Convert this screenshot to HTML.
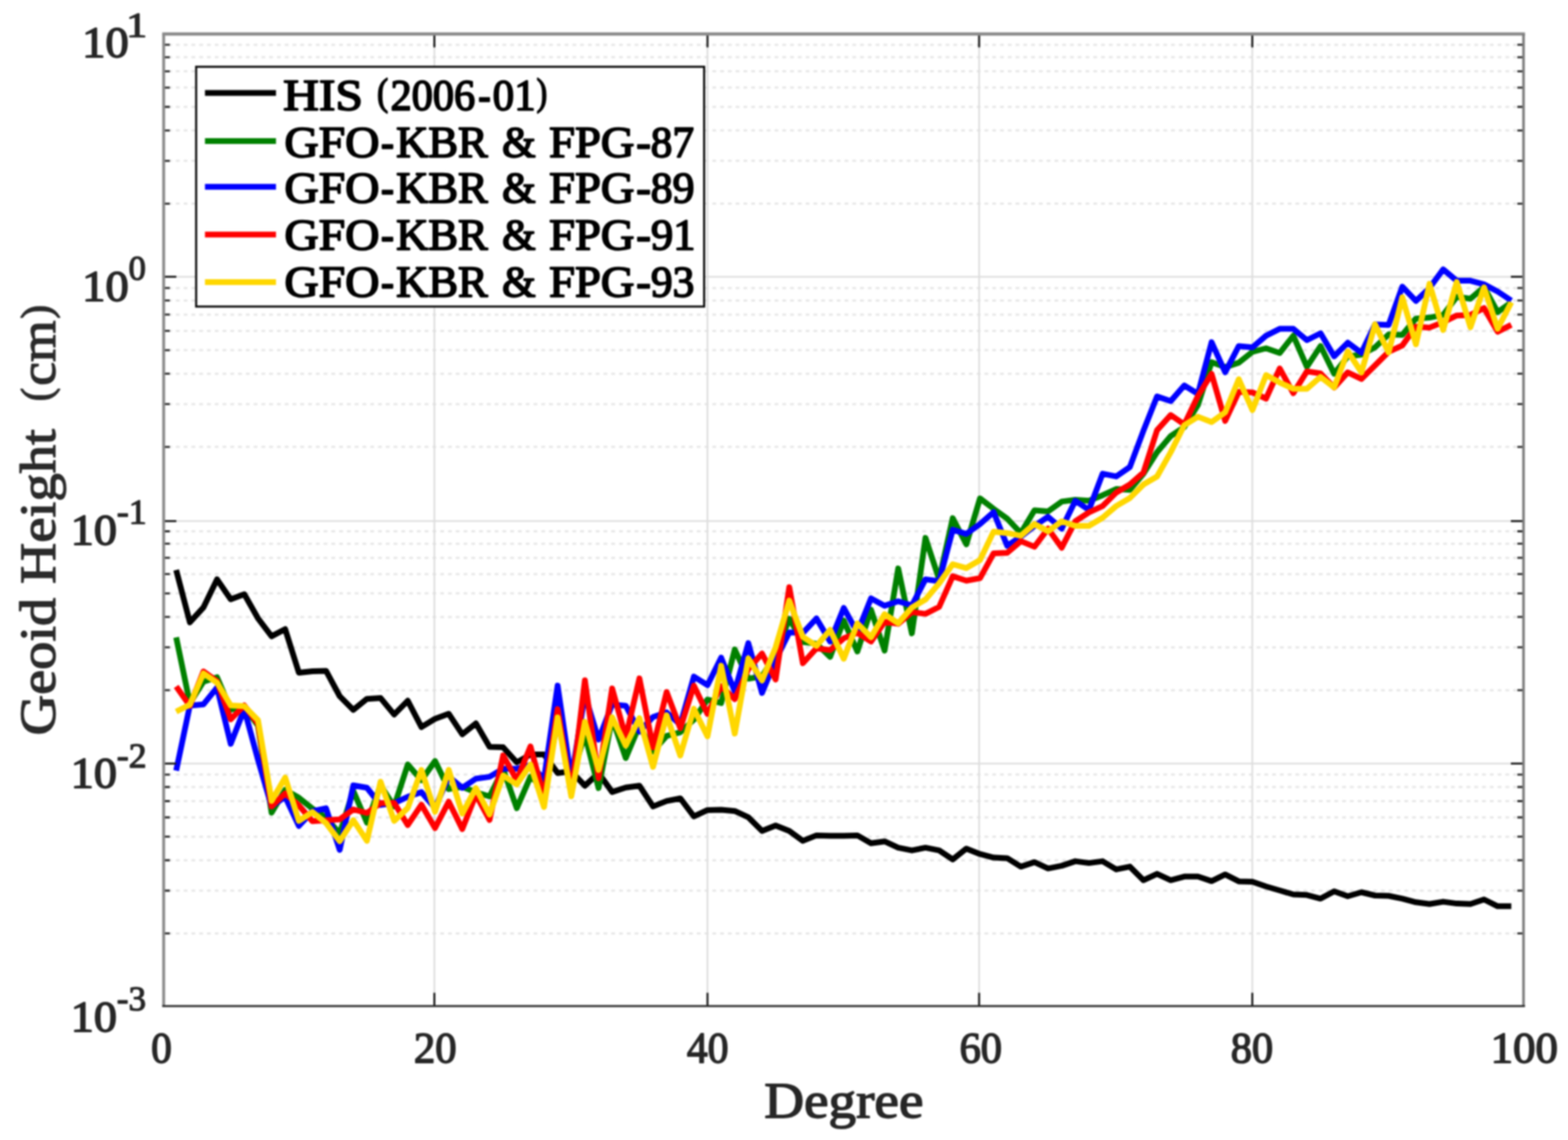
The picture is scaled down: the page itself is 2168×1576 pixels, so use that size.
<!DOCTYPE html>
<html lang="en"><head><meta charset="utf-8"><title>Geoid Height vs Degree</title>
<style>html,body{margin:0;padding:0;background:#fff;}svg{display:block}text{font-family:"Liberation Serif","DejaVu Serif",serif;font-weight:normal;stroke-linejoin:round;}.tk{font-size:60.8px;fill:#262626;stroke:#262626;stroke-width:2.0px;}.sp{font-size:47.5px;fill:#262626;stroke:#262626;stroke-width:1.6px;}.lg{font-size:60.8px;fill:#000;stroke:#000;stroke-width:2.3px;}.ax{font-size:69.0px;fill:#262626;stroke:#262626;stroke-width:1.9px;}.ay{font-size:69.0px;fill:#2a2a2a;stroke:#2a2a2a;stroke-width:1.7px;}</style></head><body>
<svg width="2168" height="1576" viewBox="0 0 2168 1576" role="img" aria-label="Geoid height versus degree">
<defs><filter id="soft" x="0" y="0" width="2168" height="1576" filterUnits="userSpaceOnUse" color-interpolation-filters="sRGB"><feGaussianBlur stdDeviation="0.9"/></filter></defs>
<g filter="url(#soft)">
<rect x="0" y="0" width="2168" height="1576" fill="#fff"/>
<g stroke="#e7e7e7" stroke-width="3.0" stroke-dasharray="5.2 5.55" stroke-dashoffset="4.6" fill="none">
<path d="M226.3 1290.46H2106.5"/>
<path d="M226.3 1231.24H2106.5"/>
<path d="M226.3 1189.23H2106.5"/>
<path d="M226.3 1156.64H2106.5"/>
<path d="M226.3 1130.01H2106.5"/>
<path d="M226.3 1107.49H2106.5"/>
<path d="M226.3 1087.99H2106.5"/>
<path d="M226.3 1070.79H2106.5"/>
<path d="M226.3 954.16H2106.5"/>
<path d="M226.3 894.94H2106.5"/>
<path d="M226.3 852.93H2106.5"/>
<path d="M226.3 820.34H2106.5"/>
<path d="M226.3 793.71H2106.5"/>
<path d="M226.3 771.19H2106.5"/>
<path d="M226.3 751.69H2106.5"/>
<path d="M226.3 734.49H2106.5"/>
<path d="M226.3 617.86H2106.5"/>
<path d="M226.3 558.64H2106.5"/>
<path d="M226.3 516.63H2106.5"/>
<path d="M226.3 484.04H2106.5"/>
<path d="M226.3 457.41H2106.5"/>
<path d="M226.3 434.89H2106.5"/>
<path d="M226.3 415.39H2106.5"/>
<path d="M226.3 398.19H2106.5"/>
<path d="M226.3 281.56H2106.5"/>
<path d="M226.3 222.34H2106.5"/>
<path d="M226.3 180.33H2106.5"/>
<path d="M226.3 147.74H2106.5"/>
<path d="M226.3 121.11H2106.5"/>
<path d="M226.3 98.59H2106.5"/>
<path d="M226.3 79.09H2106.5"/>
<path d="M226.3 61.89H2106.5"/>
</g>
<g stroke="#dddddd" stroke-width="2.3" fill="none">
<path d="M600.60 47.0V1390.9"/>
<path d="M978.20 47.0V1390.9"/>
<path d="M1353.80 47.0V1390.9"/>
<path d="M1731.50 47.0V1390.9"/>
<path d="M226.3 382.70H2106.5"/>
<path d="M226.3 720.40H2106.5"/>
<path d="M226.3 1055.60H2106.5"/>
</g>
<g fill="none" stroke-width="8.0" stroke-linejoin="round" stroke-linecap="butt">
<path stroke="#000000" d="M243.6 787.9 L262.5 860.3 L281.3 839.8 L300.1 800.9 L319.0 828.5 L337.8 821.5 L356.7 854.8 L375.5 879.6 L394.3 869.8 L413.2 929.9 L432.0 927.9 L450.8 927.4 L469.7 962.5 L488.5 981.3 L507.3 966.2 L526.2 965.0 L545.0 987.8 L563.8 968.8 L582.7 1005.1 L601.5 993.8 L620.4 986.8 L639.2 1015.1 L658.0 1000.1 L676.9 1032.6 L695.7 1033.1 L714.5 1053.9 L733.4 1043.1 L752.2 1043.1 L771.0 1068.7 L789.9 1066.2 L808.7 1086.2 L827.6 1068.7 L846.4 1094.9 L865.2 1088.7 L884.1 1086.2 L902.9 1114.9 L921.7 1107.4 L940.6 1103.7 L959.4 1128.7 L978.2 1119.9 L997.1 1119.4 L1015.9 1121.2 L1034.7 1129.9 L1053.6 1148.7 L1072.4 1141.2 L1091.3 1148.7 L1110.1 1162.4 L1128.9 1154.9 L1147.8 1155.4 L1166.6 1155.4 L1185.4 1154.9 L1204.3 1165.7 L1223.1 1163.2 L1241.9 1171.9 L1260.8 1175.7 L1279.6 1171.9 L1298.5 1175.7 L1317.3 1188.1 L1336.1 1173.2 L1355.0 1180.7 L1373.8 1185.6 L1392.6 1186.4 L1411.5 1198.1 L1430.3 1191.9 L1449.1 1200.6 L1468.0 1196.9 L1486.8 1190.6 L1505.6 1193.1 L1524.5 1190.6 L1543.3 1201.9 L1562.2 1198.1 L1581.0 1216.8 L1599.8 1208.1 L1618.7 1216.8 L1637.5 1211.8 L1656.3 1211.8 L1675.2 1218.1 L1694.0 1208.9 L1712.8 1218.4 L1731.7 1218.9 L1750.5 1225.5 L1769.4 1231.0 L1788.2 1236.5 L1807.0 1237.3 L1825.9 1242.3 L1844.7 1232.3 L1863.5 1239.0 L1882.4 1233.5 L1901.2 1238.0 L1920.0 1238.5 L1938.9 1242.3 L1957.7 1247.3 L1976.5 1249.8 L1995.4 1246.6 L2014.2 1249.1 L2033.1 1249.8 L2051.9 1243.5 L2070.7 1252.8 L2089.6 1252.8"/>
<path stroke="#008000" d="M243.6 881.1 L262.5 972.0 L281.3 942.4 L300.1 936.2 L319.0 981.1 L337.8 977.2 L356.7 1003.1 L375.5 1123.5 L394.3 1092.0 L413.2 1102.8 L432.0 1117.8 L450.8 1130.3 L469.7 1152.3 L488.5 1093.2 L507.3 1137.3 L526.2 1085.7 L545.0 1114.8 L563.8 1056.9 L582.7 1078.6 L601.5 1052.1 L620.4 1090.9 L639.2 1087.7 L658.0 1095.2 L676.9 1101.0 L695.7 1063.2 L714.5 1117.3 L733.4 1073.8 L752.2 1089.4 L771.0 997.9 L789.9 1076.9 L808.7 1015.4 L827.6 1089.4 L846.4 992.9 L865.2 1047.9 L884.1 1002.9 L902.9 1038.8 L921.7 1017.4 L940.6 1012.4 L959.4 994.9 L978.2 967.1 L997.1 971.9 L1015.9 897.9 L1034.7 938.2 L1053.6 935.1 L1072.4 904.9 L1091.3 855.4 L1110.1 887.6 L1128.9 889.9 L1147.8 908.1 L1166.6 857.9 L1185.4 900.7 L1204.3 842.9 L1223.1 899.4 L1241.9 785.9 L1260.8 875.7 L1279.6 743.6 L1298.5 801.0 L1317.3 716.3 L1336.1 752.5 L1355.0 689.0 L1373.8 703.4 L1392.6 717.0 L1411.5 736.9 L1430.3 705.5 L1449.1 707.1 L1468.0 693.4 L1486.8 691.0 L1505.6 692.2 L1524.5 684.7 L1543.3 676.1 L1562.2 677.3 L1581.0 654.9 L1599.8 625.2 L1618.7 602.8 L1637.5 590.4 L1656.3 560.0 L1675.2 500.7 L1694.0 507.6 L1712.8 501.4 L1731.7 486.4 L1750.5 481.5 L1769.4 488.0 L1788.2 464.1 L1807.0 507.1 L1825.9 478.4 L1844.7 516.7 L1863.5 492.7 L1882.4 490.2 L1901.2 480.2 L1920.0 462.3 L1938.9 462.9 L1957.7 440.4 L1976.5 439.1 L1995.4 435.4 L2014.2 410.3 L2033.1 413.0 L2051.9 396.9 L2070.7 431.5 L2089.6 418.0"/>
<path stroke="#0000ff" d="M243.6 1065.4 L262.5 975.5 L281.3 973.7 L300.1 950.5 L319.0 1028.3 L337.8 980.5 L356.7 1050.2 L375.5 1114.8 L394.3 1101.6 L413.2 1141.9 L432.0 1121.5 L450.8 1117.4 L469.7 1174.9 L488.5 1085.7 L507.3 1089.0 L526.2 1112.9 L545.0 1110.3 L563.8 1101.5 L582.7 1095.1 L601.5 1117.1 L620.4 1073.7 L639.2 1089.1 L658.0 1076.5 L676.9 1073.9 L695.7 1062.7 L714.5 1062.7 L733.4 1057.7 L752.2 1076.9 L771.0 947.9 L789.9 1076.9 L808.7 960.4 L827.6 1022.4 L846.4 973.9 L865.2 975.7 L884.1 1011.4 L902.9 991.2 L921.7 984.9 L940.6 1001.9 L959.4 935.4 L978.2 947.2 L997.1 909.2 L1015.9 955.7 L1034.7 889.2 L1053.6 957.9 L1072.4 912.4 L1091.3 874.2 L1110.1 874.9 L1128.9 855.0 L1147.8 886.9 L1166.6 840.4 L1185.4 874.4 L1204.3 827.2 L1223.1 837.4 L1241.9 831.2 L1260.8 837.0 L1279.6 800.9 L1298.5 803.5 L1317.3 732.4 L1336.1 738.1 L1355.0 724.5 L1373.8 707.9 L1392.6 754.6 L1411.5 741.9 L1430.3 727.0 L1449.1 714.4 L1468.0 730.8 L1486.8 692.3 L1505.6 705.0 L1524.5 654.9 L1543.3 658.7 L1562.2 645.6 L1581.0 595.3 L1599.8 548.1 L1618.7 554.5 L1637.5 532.9 L1656.3 544.5 L1675.2 473.2 L1694.0 514.6 L1712.8 478.4 L1731.7 480.2 L1750.5 464.1 L1769.4 454.6 L1788.2 454.6 L1807.0 470.3 L1825.9 460.8 L1844.7 492.6 L1863.5 473.7 L1882.4 487.7 L1901.2 448.5 L1920.0 449.2 L1938.9 396.3 L1957.7 416.1 L1976.5 398.1 L1995.4 372.4 L2014.2 388.1 L2033.1 388.1 L2051.9 393.1 L2070.7 403.0 L2089.6 415.5"/>
<path stroke="#ff0000" d="M243.6 949.0 L262.5 975.7 L281.3 928.3 L300.1 941.8 L319.0 994.5 L337.8 975.3 L356.7 1000.6 L375.5 1114.8 L394.3 1096.9 L413.2 1113.3 L432.0 1135.3 L450.8 1134.1 L469.7 1132.8 L488.5 1119.0 L507.3 1124.0 L526.2 1110.3 L545.0 1110.0 L563.8 1140.6 L582.7 1112.5 L601.5 1144.7 L620.4 1108.3 L639.2 1146.1 L658.0 1098.5 L676.9 1133.5 L695.7 1044.4 L714.5 1078.5 L733.4 1031.9 L752.2 1101.9 L771.0 980.4 L789.9 1096.9 L808.7 940.4 L827.6 1075.7 L846.4 951.7 L865.2 1019.4 L884.1 937.9 L902.9 1033.2 L921.7 956.7 L940.6 1006.7 L959.4 947.9 L978.2 986.9 L997.1 948.6 L1015.9 966.5 L1034.7 924.9 L1053.6 903.5 L1072.4 939.4 L1091.3 811.7 L1110.1 916.9 L1128.9 896.2 L1147.8 898.7 L1166.6 882.4 L1185.4 874.9 L1204.3 886.9 L1223.1 859.7 L1241.9 862.4 L1260.8 846.2 L1279.6 848.6 L1298.5 839.0 L1317.3 796.6 L1336.1 802.7 L1355.0 799.3 L1373.8 765.0 L1392.6 764.2 L1411.5 748.1 L1430.3 755.9 L1449.1 730.8 L1468.0 757.2 L1486.8 720.7 L1505.6 708.3 L1524.5 699.6 L1543.3 681.0 L1562.2 669.8 L1581.0 653.3 L1599.8 594.7 L1618.7 573.8 L1637.5 586.7 L1656.3 547.5 L1675.2 516.8 L1694.0 581.8 L1712.8 541.8 L1731.7 542.5 L1750.5 551.0 L1769.4 509.3 L1788.2 543.6 L1807.0 513.4 L1825.9 516.3 L1844.7 535.7 L1863.5 514.8 L1882.4 523.9 L1901.2 505.1 L1920.0 486.4 L1938.9 477.7 L1957.7 451.4 L1976.5 452.9 L1995.4 445.4 L2014.2 436.2 L2033.1 435.4 L2051.9 425.9 L2070.7 458.6 L2089.6 449.1"/>
<path stroke="#ffd700" d="M243.6 983.8 L262.5 974.1 L281.3 931.0 L300.1 943.7 L319.0 975.3 L337.8 976.3 L356.7 995.6 L375.5 1107.2 L394.3 1074.9 L413.2 1134.8 L432.0 1122.7 L450.8 1137.8 L469.7 1162.9 L488.5 1133.9 L507.3 1162.4 L526.2 1080.7 L545.0 1134.8 L563.8 1117.0 L582.7 1064.4 L601.5 1122.3 L620.4 1064.4 L639.2 1124.8 L658.0 1089.5 L676.9 1126.0 L695.7 1072.1 L714.5 1084.5 L733.4 1056.9 L752.2 1115.7 L771.0 991.7 L789.9 1100.7 L808.7 997.9 L827.6 1064.4 L846.4 991.7 L865.2 1030.7 L884.1 992.9 L902.9 1060.2 L921.7 988.9 L940.6 1044.4 L959.4 979.9 L978.2 1017.9 L997.1 920.4 L1015.9 1014.2 L1034.7 910.4 L1053.6 940.7 L1072.4 894.9 L1091.3 830.4 L1110.1 880.5 L1128.9 892.9 L1147.8 870.8 L1166.6 910.7 L1185.4 861.8 L1204.3 881.0 L1223.1 849.1 L1241.9 861.6 L1260.8 839.9 L1279.6 828.8 L1298.5 806.4 L1317.3 780.0 L1336.1 785.3 L1355.0 774.3 L1373.8 734.9 L1392.6 736.9 L1411.5 740.6 L1430.3 724.4 L1449.1 734.4 L1468.0 720.7 L1486.8 727.0 L1505.6 727.0 L1524.5 715.8 L1543.3 699.6 L1562.2 688.5 L1581.0 669.8 L1599.8 658.7 L1618.7 625.1 L1637.5 587.8 L1656.3 576.1 L1675.2 583.5 L1694.0 570.1 L1712.8 524.3 L1731.7 566.9 L1750.5 518.6 L1769.4 528.8 L1788.2 537.5 L1807.0 537.5 L1825.9 521.1 L1844.7 535.5 L1863.5 485.7 L1882.4 514.8 L1901.2 448.4 L1920.0 487.2 L1938.9 411.0 L1957.7 476.0 L1976.5 392.3 L1995.4 456.1 L2014.2 389.8 L2033.1 452.4 L2051.9 397.3 L2070.7 454.4 L2089.6 418.0"/>
</g>
<g stroke="#1c1c1c" stroke-width="2.8" fill="none">
<path d="M600.60 1390.9v-18.5M600.60 47.0v18.5"/>
<path d="M978.20 1390.9v-18.5M978.20 47.0v18.5"/>
<path d="M1353.80 1390.9v-18.5M1353.80 47.0v18.5"/>
<path d="M1731.50 1390.9v-18.5M1731.50 47.0v18.5"/>
<path d="M226.3 382.70h17.5M2106.5 382.70h-17.5"/>
<path d="M226.3 720.40h17.5M2106.5 720.40h-17.5"/>
<path d="M226.3 1055.60h17.5M2106.5 1055.60h-17.5"/>
</g>
<g stroke="#2c2c2c" stroke-width="2.8" fill="none">
<path d="M226.3 1290.46h8.5M2106.5 1290.46h-8.5"/>
<path d="M226.3 1231.24h8.5M2106.5 1231.24h-8.5"/>
<path d="M226.3 1189.23h8.5M2106.5 1189.23h-8.5"/>
<path d="M226.3 1156.64h8.5M2106.5 1156.64h-8.5"/>
<path d="M226.3 1130.01h8.5M2106.5 1130.01h-8.5"/>
<path d="M226.3 1107.49h8.5M2106.5 1107.49h-8.5"/>
<path d="M226.3 1087.99h8.5M2106.5 1087.99h-8.5"/>
<path d="M226.3 1070.79h8.5M2106.5 1070.79h-8.5"/>
<path d="M226.3 954.16h8.5M2106.5 954.16h-8.5"/>
<path d="M226.3 894.94h8.5M2106.5 894.94h-8.5"/>
<path d="M226.3 852.93h8.5M2106.5 852.93h-8.5"/>
<path d="M226.3 820.34h8.5M2106.5 820.34h-8.5"/>
<path d="M226.3 793.71h8.5M2106.5 793.71h-8.5"/>
<path d="M226.3 771.19h8.5M2106.5 771.19h-8.5"/>
<path d="M226.3 751.69h8.5M2106.5 751.69h-8.5"/>
<path d="M226.3 734.49h8.5M2106.5 734.49h-8.5"/>
<path d="M226.3 617.86h8.5M2106.5 617.86h-8.5"/>
<path d="M226.3 558.64h8.5M2106.5 558.64h-8.5"/>
<path d="M226.3 516.63h8.5M2106.5 516.63h-8.5"/>
<path d="M226.3 484.04h8.5M2106.5 484.04h-8.5"/>
<path d="M226.3 457.41h8.5M2106.5 457.41h-8.5"/>
<path d="M226.3 434.89h8.5M2106.5 434.89h-8.5"/>
<path d="M226.3 415.39h8.5M2106.5 415.39h-8.5"/>
<path d="M226.3 398.19h8.5M2106.5 398.19h-8.5"/>
<path d="M226.3 281.56h8.5M2106.5 281.56h-8.5"/>
<path d="M226.3 222.34h8.5M2106.5 222.34h-8.5"/>
<path d="M226.3 180.33h8.5M2106.5 180.33h-8.5"/>
<path d="M226.3 147.74h8.5M2106.5 147.74h-8.5"/>
<path d="M226.3 121.11h8.5M2106.5 121.11h-8.5"/>
<path d="M226.3 98.59h8.5M2106.5 98.59h-8.5"/>
<path d="M226.3 79.09h8.5M2106.5 79.09h-8.5"/>
<path d="M226.3 61.89h8.5M2106.5 61.89h-8.5"/>
</g>
<path d="M224.3 47.0H2108.5" stroke="#8a8a8a" stroke-width="4.4" fill="none"/>
<path d="M226.3 47.0V1390.9" stroke="#8a8a8a" stroke-width="4" fill="none"/>
<path d="M2106.5 47.0V1390.9" stroke="#7c7c7c" stroke-width="3.6" fill="none"/>
<path d="M224.3 1390.9H2108.5" stroke="#2a2a2a" stroke-width="2.8" fill="none"/>
<rect x="271.2" y="92.3" width="702.4000000000001" height="331.5" fill="#fff" stroke="#0a0a0a" stroke-width="2.9"/>
<path d="M283.4 128.4H381.6" stroke="#000000" stroke-width="8.0" fill="none"/>
<text class="lg"><tspan x="391.48" y="152.4" textLength="110.25" lengthAdjust="spacingAndGlyphs">HIS</tspan> <tspan x="521.38" y="144.8" textLength="15.15" lengthAdjust="spacingAndGlyphs" style="font-size:52px">(</tspan><tspan x="540.00" y="152.4" textLength="117.02" lengthAdjust="spacingAndGlyphs">2006</tspan><tspan x="661.24" y="152.4" textLength="17.23" lengthAdjust="spacingAndGlyphs">-</tspan><tspan x="681.36" y="152.4" textLength="59.19" lengthAdjust="spacingAndGlyphs">01</tspan><tspan x="741.88" y="144.8" textLength="14.52" lengthAdjust="spacingAndGlyphs" style="font-size:52px">)</tspan></text>
<path d="M283.4 195.0H381.6" stroke="#008000" stroke-width="8.0" fill="none"/>
<text class="lg"><tspan x="393.25" y="216.5" textLength="131.33" lengthAdjust="spacingAndGlyphs">GFO</tspan><tspan x="526.65" y="216.5" textLength="18.00" lengthAdjust="spacingAndGlyphs">-</tspan><tspan x="547.68" y="216.5" textLength="126.59" lengthAdjust="spacingAndGlyphs">KBR</tspan> <tspan x="694.34" y="216.5" textLength="46.44" lengthAdjust="spacingAndGlyphs">&amp;</tspan> <tspan x="759.20" y="216.5" textLength="117.93" lengthAdjust="spacingAndGlyphs">FPG</tspan><tspan x="879.81" y="216.5" textLength="20.19" lengthAdjust="spacingAndGlyphs">-</tspan><tspan x="899.84" y="216.5" textLength="59.78" lengthAdjust="spacingAndGlyphs">87</tspan></text>
<path d="M283.4 258.3H381.6" stroke="#0000ff" stroke-width="8.0" fill="none"/>
<text class="lg"><tspan x="393.25" y="279.9" textLength="131.33" lengthAdjust="spacingAndGlyphs">GFO</tspan><tspan x="526.65" y="279.9" textLength="18.00" lengthAdjust="spacingAndGlyphs">-</tspan><tspan x="547.68" y="279.9" textLength="126.59" lengthAdjust="spacingAndGlyphs">KBR</tspan> <tspan x="694.34" y="279.9" textLength="46.44" lengthAdjust="spacingAndGlyphs">&amp;</tspan> <tspan x="759.20" y="279.9" textLength="117.93" lengthAdjust="spacingAndGlyphs">FPG</tspan><tspan x="879.81" y="279.9" textLength="20.19" lengthAdjust="spacingAndGlyphs">-</tspan><tspan x="899.81" y="279.9" textLength="60.58" lengthAdjust="spacingAndGlyphs">89</tspan></text>
<path d="M283.4 324.3H381.6" stroke="#ff0000" stroke-width="8.0" fill="none"/>
<text class="lg"><tspan x="393.25" y="345.4" textLength="131.33" lengthAdjust="spacingAndGlyphs">GFO</tspan><tspan x="526.65" y="345.4" textLength="18.00" lengthAdjust="spacingAndGlyphs">-</tspan><tspan x="547.68" y="345.4" textLength="126.59" lengthAdjust="spacingAndGlyphs">KBR</tspan> <tspan x="694.34" y="345.4" textLength="46.44" lengthAdjust="spacingAndGlyphs">&amp;</tspan> <tspan x="759.20" y="345.4" textLength="117.93" lengthAdjust="spacingAndGlyphs">FPG</tspan><tspan x="879.81" y="345.4" textLength="20.19" lengthAdjust="spacingAndGlyphs">-</tspan><tspan x="900.02" y="345.4" textLength="61.68" lengthAdjust="spacingAndGlyphs">91</tspan></text>
<path d="M283.4 390.1H381.6" stroke="#ffd700" stroke-width="8.0" fill="none"/>
<text class="lg"><tspan x="393.25" y="410.0" textLength="131.33" lengthAdjust="spacingAndGlyphs">GFO</tspan><tspan x="526.65" y="410.0" textLength="18.00" lengthAdjust="spacingAndGlyphs">-</tspan><tspan x="547.68" y="410.0" textLength="126.59" lengthAdjust="spacingAndGlyphs">KBR</tspan> <tspan x="694.34" y="410.0" textLength="46.44" lengthAdjust="spacingAndGlyphs">&amp;</tspan> <tspan x="759.20" y="410.0" textLength="117.93" lengthAdjust="spacingAndGlyphs">FPG</tspan><tspan x="879.81" y="410.0" textLength="20.19" lengthAdjust="spacingAndGlyphs">-</tspan><tspan x="900.07" y="410.0" textLength="60.04" lengthAdjust="spacingAndGlyphs">93</tspan></text>
<text class="tk"><tspan x="113.43" y="79.4" textLength="64.51" lengthAdjust="spacingAndGlyphs">10</tspan><tspan class="sp" x="174.42" y="51.1" textLength="28.93" lengthAdjust="spacingAndGlyphs">1</tspan></text>
<text class="tk"><tspan x="113.43" y="415.7" textLength="64.51" lengthAdjust="spacingAndGlyphs">10</tspan><tspan class="sp" x="177.84" y="387.4" textLength="23.93" lengthAdjust="spacingAndGlyphs">0</tspan></text>
<text class="tk"><tspan x="97.88" y="753.0" textLength="63.94" lengthAdjust="spacingAndGlyphs">10</tspan><tspan class="sp" x="161.57" y="724.3" textLength="41.39" lengthAdjust="spacingAndGlyphs">-1</tspan></text>
<text class="tk"><tspan x="97.88" y="1089.3" textLength="63.94" lengthAdjust="spacingAndGlyphs">10</tspan><tspan class="sp" x="161.58" y="1060.6" textLength="41.09" lengthAdjust="spacingAndGlyphs">-2</tspan></text>
<text class="tk"><tspan x="97.88" y="1425.6" textLength="63.94" lengthAdjust="spacingAndGlyphs">10</tspan><tspan class="sp" x="161.62" y="1396.9" textLength="40.24" lengthAdjust="spacingAndGlyphs">-3</tspan></text>
<text class="tk" x="208.99" y="1469.1" textLength="28.58" lengthAdjust="spacingAndGlyphs">0</text>
<text class="tk" x="572.13" y="1469.1" textLength="59.11" lengthAdjust="spacingAndGlyphs">20</text>
<text class="tk" x="949.82" y="1469.1" textLength="57.56" lengthAdjust="spacingAndGlyphs">40</text>
<text class="tk" x="1326.68" y="1469.1" textLength="58.84" lengthAdjust="spacingAndGlyphs">60</text>
<text class="tk" x="1701.73" y="1469.1" textLength="58.58" lengthAdjust="spacingAndGlyphs">80</text>
<text class="tk" x="2060.93" y="1469.1" textLength="93.22" lengthAdjust="spacingAndGlyphs">100</text>
<text class="ax" x="1056.74" y="1544.9" textLength="220.00" lengthAdjust="spacingAndGlyphs">Degree</text>
<text class="ay" transform="translate(76.2 1015.0) rotate(-90)"><tspan x="-1.65" y="0" textLength="190.00" lengthAdjust="spacingAndGlyphs">Geoid</tspan> <tspan x="207.87" y="0" textLength="214.02" lengthAdjust="spacingAndGlyphs">Height</tspan>  <tspan x="460.21" y="-6.5" textLength="18.43" lengthAdjust="spacingAndGlyphs" style="font-size:59px">(</tspan><tspan x="481.81" y="0" textLength="90.27" lengthAdjust="spacingAndGlyphs">cm</tspan><tspan x="574.53" y="-6.5" textLength="18.87" lengthAdjust="spacingAndGlyphs" style="font-size:59px">)</tspan></text>
</g>
</svg></body></html>
